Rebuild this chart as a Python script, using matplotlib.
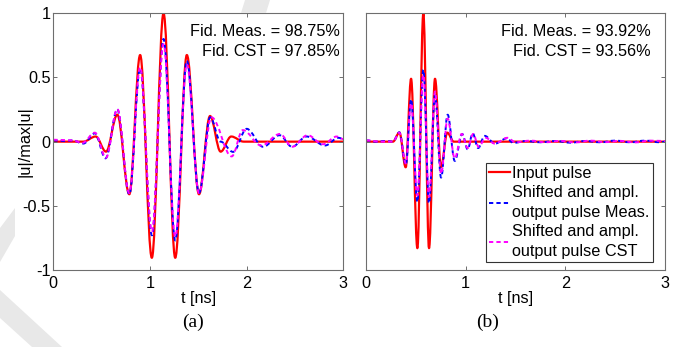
import matplotlib
matplotlib.use('Agg')
import matplotlib.pyplot as plt
from matplotlib.path import Path
from matplotlib.patches import PathPatch, Polygon
from matplotlib.lines import Line2D

plt.rcParams['font.family'] = ['Liberation Sans', 'DejaVu Sans']

# ---------------- data (extrema) ----------------
# panel (a)
a_input_t = [0.0, 0.31, 0.438, 0.545, 0.662, 0.786, 0.898, 1.019, 1.14, 1.261, 1.381, 1.507, 1.621, 1.731, 1.84, 1.97, 3.0]
a_input_v = [0.0, 0.0, 0.04, -0.078, 0.21, -0.41, 0.675, -0.905, 1.0, -0.905, 0.675, -0.41, 0.20, -0.078, 0.04, 0.0, 0.0]

a_meas_t = [0.0, 0.12, 0.2, 0.31, 0.43, 0.54, 0.662, 0.786, 0.898, 1.02, 1.14, 1.261, 1.381, 1.507, 1.623, 1.73, 1.86, 2.0, 2.17, 2.34, 2.47, 2.62, 2.81, 2.95, 3.0]
a_meas_v = [0.01, 0.005, 0.01, -0.015, 0.065, -0.13, 0.25, -0.41, 0.57, -0.73, 0.80, -0.77, 0.63, -0.40, 0.19, 0.0, -0.08, 0.10, -0.04, 0.05, -0.04, 0.04, -0.03, 0.03, 0.02]

a_cst_t = [0.0, 0.2, 0.3, 0.43, 0.545, 0.662, 0.786, 0.898, 1.02, 1.14, 1.261, 1.381, 1.507, 1.635, 1.845, 1.96, 2.15, 2.345, 2.47, 2.63, 2.79, 2.93, 3.0]
a_cst_v = [0.015, 0.01, -0.01, 0.07, -0.125, 0.255, -0.40, 0.58, -0.70, 0.76, -0.74, 0.60, -0.40, 0.19, -0.115, 0.09, -0.03, 0.06, -0.04, 0.05, -0.02, 0.04, 0.02]

# panel (b)
b_input_t = [0.0, 0.27, 0.335, 0.398, 0.452, 0.515, 0.575, 0.632, 0.692, 0.752, 0.815, 0.88, 3.0]
b_input_v = [0.0, 0.0, 0.07, -0.20, 0.49, -0.83, 1.0, -0.83, 0.49, -0.20, 0.07, 0.0, 0.0]

b_meas_t = [0.0, 0.1, 0.2, 0.27, 0.334, 0.40, 0.452, 0.515, 0.575, 0.632, 0.692, 0.753, 0.819, 0.89, 0.965, 1.02, 1.07, 1.125, 1.19, 1.294, 1.41, 1.48, 1.6, 1.75, 1.9, 2.05, 2.2, 2.35, 2.5, 2.65, 2.8, 2.95, 3.0]
b_meas_v = [0.01, 0.0, 0.005, 0.0, 0.073, -0.18, 0.33, -0.47, 0.56, -0.48, 0.36, -0.28, 0.21, -0.15, 0.06, -0.06, 0.065, -0.05, 0.045, -0.015, 0.025, -0.01, 0.005, -0.005, 0.005, -0.008, 0.005, -0.005, 0.008, -0.005, 0.008, -0.005, 0.0]

b_cst_t = [0.0, 0.15, 0.27, 0.334, 0.40, 0.452, 0.515, 0.575, 0.632, 0.692, 0.753, 0.819, 0.89, 0.96, 1.02, 1.075, 1.13, 1.2, 1.29, 1.42, 1.5, 1.65, 1.8, 1.95, 2.1, 2.25, 2.4, 2.55, 2.7, 2.85, 3.0]
b_cst_v = [0.01, 0.0, 0.0, 0.07, -0.17, 0.30, -0.42, 0.52, -0.43, 0.39, -0.25, 0.18, -0.13, 0.06, -0.05, 0.06, -0.04, 0.03, -0.015, 0.03, -0.005, 0.008, -0.005, 0.006, -0.006, 0.008, -0.004, 0.006, -0.006, 0.008, 0.005]

fid_a = ["Fid. Meas. = 98.75%", "Fid. CST = 97.85%"]
fid_b = ["Fid. Meas. = 93.92%", "Fid. CST = 93.56%"]
legend_labels = ["Input pulse", "Shifted and ampl.\noutput pulse Meas.", "Shifted and ampl.\noutput pulse CST"]
x_ticks = [0, 1, 2, 3]
y_ticks = [-1, -0.5, 0, 0.5, 1]
y_ticklabels = ["-1", "-0.5", "0", "0.5", "1"]

# ---------------- styles ----------------
RED = (1, 0, 0)
BLUE = (0, 0, 1)
MAG = (1, 0, 1)
DASH = (0, (2.2, 1.6))
FS = 11.7
W, H = 698.0, 347.0


def smooth_path(t, v):
    """Path through the read extrema with horizontal tangents (cubic Bezier)."""
    k = 0.3642
    verts = [(t[0], v[0])]
    codes = [Path.MOVETO]
    for i in range(1, len(t)):
        dt = t[i] - t[i - 1]
        verts += [(t[i - 1] + k * dt, v[i - 1]), (t[i] - k * dt, v[i]), (t[i], v[i])]
        codes += [Path.CURVE4] * 3
    return Path(verts, codes)


def draw_curve(ax, t, v, color, lw, ls):
    p = PathPatch(smooth_path(t, v), fill=False, edgecolor=color, lw=lw,
                  linestyle=ls, joinstyle='round', capstyle='butt')
    ax.add_patch(p)


fig = plt.figure(figsize=(6.98, 3.47), dpi=100)

# faint background watermark pieces (decoration, pixel outlines, y downward)
watermark = [
    [(245, 0), (270, 0), (266, 13), (241, 13)],
    [(0, 228), (15, 208), (15, 236), (0, 262)],
    [(0, 290), (0, 318), (32, 347), (62, 347)],
]
for poly in watermark:
    fig.patches.append(Polygon([(x / W, 1 - y / H) for x, y in poly], closed=True,
                               transform=fig.transFigure, facecolor='#e8e8e8',
                               edgecolor='none', zorder=0))

ax_a = fig.add_axes([0.0764, 0.2219, 0.4155, 0.7398])
ax_b = fig.add_axes([0.5244, 0.2219, 0.4284, 0.7398])

spine_col = '#6e6e6e'
for ax in (ax_a, ax_b):
    ax.set_xlim(0, 3)
    ax.set_ylim(-1, 1)
    ax.set_xticks(x_ticks)
    ax.set_yticks(y_ticks)
    ax.tick_params(direction='in', length=3, width=0.7, color=spine_col,
                   top=True, right=True, labelsize=FS, pad=4)
    for s in ax.spines.values():
        s.set_color(spine_col)
        s.set_linewidth(0.8)
    ax.set_xlabel("t [ns]", fontsize=FS, labelpad=0)

ax_a.set_yticklabels(y_ticklabels)
ax_a.set_xticklabels([str(x) for x in x_ticks])
ax_b.set_yticklabels([])
ax_b.set_xticklabels([str(x) for x in x_ticks])
ax_a.tick_params(axis='y', pad=2)
ax_a.set_ylabel("|u|/max|u|", fontsize=FS, va='center')
ax_a.yaxis.set_label_coords(-0.098, 0.5)

draw_curve(ax_a, a_input_t, a_input_v, RED, 1.6, '-')
draw_curve(ax_a, a_meas_t, a_meas_v, BLUE, 1.4, DASH)
draw_curve(ax_a, a_cst_t, a_cst_v, MAG, 1.4, DASH)

draw_curve(ax_b, b_input_t, b_input_v, RED, 1.6, '-')
draw_curve(ax_b, b_meas_t, b_meas_v, BLUE, 1.4, DASH)
draw_curve(ax_b, b_cst_t, b_cst_v, MAG, 1.4, DASH)

# fidelity annotations
ax_a.text(0.989, 0.931, fid_a[0], transform=ax_a.transAxes, ha='right', va='center', fontsize=FS)
ax_a.text(0.989, 0.853, fid_a[1], transform=ax_a.transAxes, ha='right', va='center', fontsize=FS)
ax_b.text(0.951, 0.931, fid_b[0], transform=ax_b.transAxes, ha='right', va='center', fontsize=FS)
ax_b.text(0.951, 0.853, fid_b[1], transform=ax_b.transAxes, ha='right', va='center', fontsize=FS)

handles = [Line2D([], [], color=RED, lw=1.6),
           Line2D([], [], color=BLUE, lw=1.4, ls=DASH),
           Line2D([], [], color=MAG, lw=1.4, ls=DASH)]
leg = ax_b.legend(handles, legend_labels, loc='lower right', bbox_to_anchor=(0.96, 0.03),
                  fontsize=FS, frameon=True, fancybox=False, handlelength=1.3,
                  handletextpad=0.15, borderpad=0.2, labelspacing=0.22,
                  borderaxespad=0.0)
for t in leg.get_texts():
    t.set_linespacing(1.45)
leg.get_frame().set_edgecolor('#333333')
leg.get_frame().set_linewidth(0.8)
leg.get_frame().set_alpha(1)

fig.text(0.277, 0.072, "(a)", ha='center', va='center', fontsize=14, family='Liberation Serif')
fig.text(0.699, 0.072, "(b)", ha='center', va='center', fontsize=14, family='Liberation Serif')

fig.savefig("out.png", dpi=100)
